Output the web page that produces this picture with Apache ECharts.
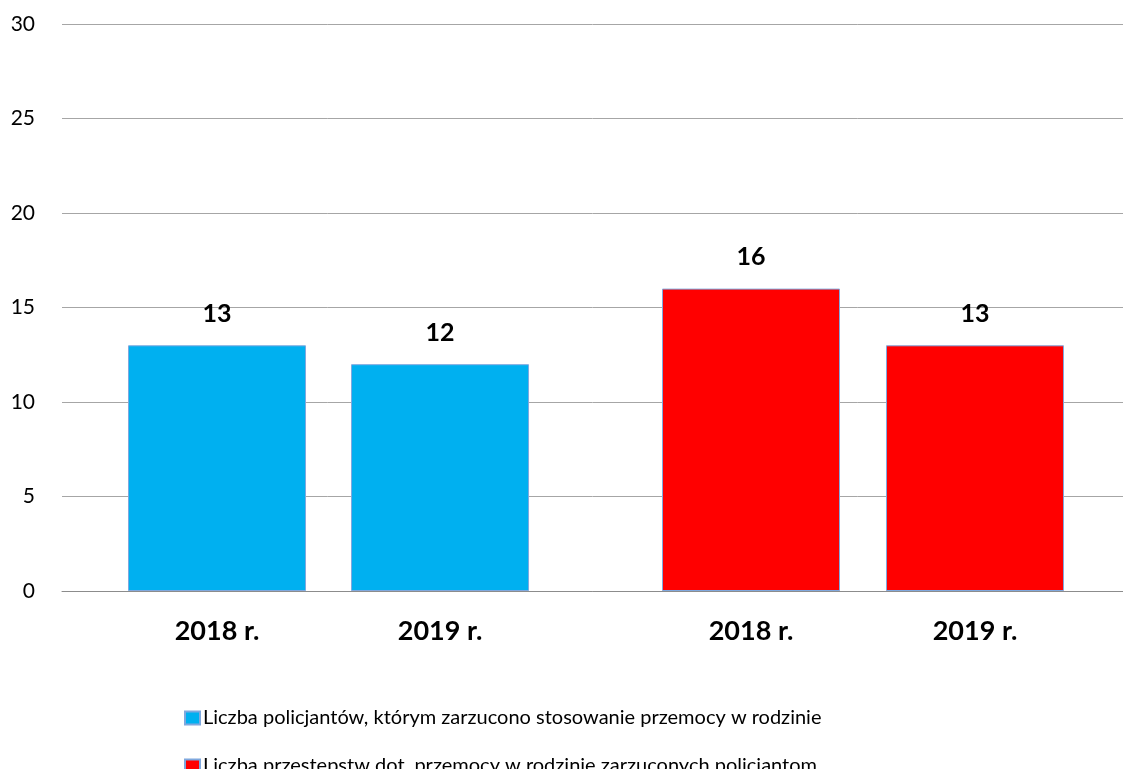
<!DOCTYPE html>
<html>
<head>
<meta charset="utf-8">
<script src="https://cdn.jsdelivr.net/npm/echarts@6/dist/echarts.min.js"></script>
<style>html,body{margin:0;padding:0;background:#fff}#c{width:1123px;height:769px}</style>
</head>
<body>
<div id="c"></div>
<script>
// Data
const yearLabels = ['2018 r.', '2019 r.', '2018 r.', '2019 r.'];
const seriesNames = [
  'Liczba policjantów, którym zarzucono stosowanie przemocy w rodzinie',
  'Liczba przestępstw dot. przemocy w rodzinie zarzuconych policjantom'
];
const policemenValues = [13, 12];
const crimesValues = [16, 13];
const yTicks = [0, 5, 10, 15, 20, 25, 30];

// Layout (bar slot centres as fractions of plot width)
const slotPos = [0.1461, 0.3563, 0.6494, 0.8605];

const chart = echarts.init(document.getElementById('c'), null, {renderer: 'canvas'});
const font = 'Lato, "Open Sans", sans-serif';
const posToLabel = {};
slotPos.forEach((p, i) => { posToLabel[p] = yearLabels[i]; });

const legendBase = {
  orient: 'horizontal', left: 179,
  itemWidth: 15, itemHeight: 13,
  icon: 'rect',
  textStyle: {fontFamily: font, fontSize: 20, color: '#000', lineHeight: 24, padding: [0,0,0,-2]}
};

chart.setOption({
  animation: false,
  backgroundColor: '#fff',
  grid: {left: 62, right: 0, top: 24, bottom: 178, containLabel: false},
  xAxis: {
    type: 'value', min: 0, max: 1,
    splitLine: {show: false},
    axisLine: {show: true, onZero: true, lineStyle: {color: '#8c8c8c', width: 1}},
    axisTick: {show: false},
    axisLabel: {
      customValues: slotPos,
      formatter: v => posToLabel[v] || '',
      fontFamily: font, fontWeight: 'bold', fontSize: 27, color: '#000', margin: 27
    }
  },
  yAxis: {
    type: 'value', min: yTicks[0], max: yTicks[yTicks.length - 1], interval: 5,
    axisLine: {show: false}, axisTick: {show: false},
    splitLine: {lineStyle: {color: '#a6a6a6', width: 1}},
    axisLabel: {fontFamily: font, fontSize: 21, color: '#000', margin: 27}
  },
  legend: [
    Object.assign({}, legendBase, {top: 701, data: [seriesNames[0]]}),
    Object.assign({}, legendBase, {top: 749, data: [seriesNames[1]]})
  ],
  series: [
    {
      name: seriesNames[0], type: 'bar', barWidth: 178, barGap: '-100%',
      itemStyle: {color: '#00b0f0', borderColor: '#7fa8de', borderWidth: 1},
      label: {show: true, position: 'top', distance: 19, fontFamily: font, fontWeight: 'bold', fontSize: 25, color: '#000'},
      data: policemenValues.map((v, i) => [slotPos[i], v])
    },
    {
      name: seriesNames[1], type: 'bar', barWidth: 178, barGap: '-100%',
      itemStyle: {color: '#ff0000', borderColor: '#7fa8de', borderWidth: 1},
      label: {show: true, position: 'top', distance: 19, fontFamily: font, fontWeight: 'bold', fontSize: 25, color: '#000'},
      data: crimesValues.map((v, i) => [slotPos[i + 2], v])
    }
  ]
});
</script>
</body>
</html>
